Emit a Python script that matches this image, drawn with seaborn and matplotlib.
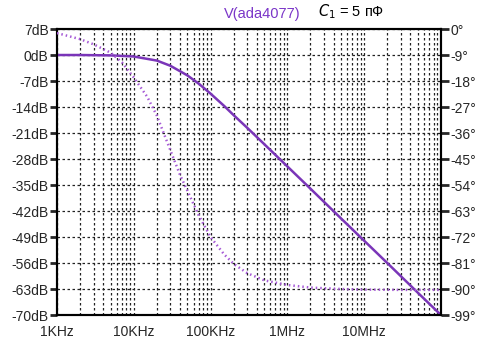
import numpy as np
import pandas as pd
import matplotlib
matplotlib.use("Agg")
import matplotlib.pyplot as plt
import seaborn as sns
from matplotlib.ticker import FixedLocator, NullFormatter

# Magnitude response of the ADA4077 stage (dB)
mag_freq_hz = [1e3, 2e3, 5e3, 1e4, 2e4, 3e4, 5e4, 7e4, 1e5, 1.5e5, 2e5, 3e5,
               5e5, 1e6, 2e6, 5e6, 1e7, 2e7, 5e7, 1e8]
mag_db = [0.0, 0.0, -0.1, -0.4, -1.5, -2.9, -5.5, -7.7, -10.4, -13.7, -16.2,
          -19.6, -24.0, -30.0, -36.0, -44.0, -50.0, -56.0, -64.0, -70.0]

# Phase response (degrees)
phase_freq_hz = [1e3, 2e3, 3e3, 5e3, 7e3, 1e4, 1.5e4, 2e4, 3e4, 4e4, 5e4, 7e4,
                 1e5, 1.5e5, 2e5, 3e5, 5e5, 1e6, 2e6, 5e6, 1e7, 3e7, 1e8]
phase_deg = [-1.4, -3.5, -5.3, -8.2, -11.5, -16.8, -23.5, -30.0, -42.0, -50.5,
             -56.0, -64.5, -72.0, -78.0, -81.3, -84.5, -87.0, -88.6, -89.5,
             -90.0, -90.2, -90.3, -90.3]

db_ticks = list(range(7, -71, -7))
deg_ticks = list(range(0, -100, -9))
freq_ticks = [1e3, 1e4, 1e5, 1e6, 1e7]
freq_labels = ["1KHz", "10KHz", "100KHz", "1MHz", "10MHz"]

sns.set_style("white")
plt.rcParams["font.family"] = ["Liberation Sans Narrow", "Liberation Sans", "DejaVu Sans"]

mag = pd.DataFrame({"f": mag_freq_hz, "db": mag_db})
ph = pd.DataFrame({"f": phase_freq_hz, "deg": phase_deg})

fig = plt.figure(figsize=(4.87, 3.41), dpi=100)
ax = fig.add_axes([0.117, 0.0762, 0.7885, 0.8387])
ax2 = ax.twinx()

mag_color = "#7a35b8"
phase_color = "#a65ad6"

sns.lineplot(data=mag, x="f", y="db", ax=ax, color=mag_color, lw=1.8, zorder=5)
sns.lineplot(data=ph, x="f", y="deg", ax=ax2, color=phase_color, lw=1.8,
             linestyle=(0, (0.6, 1.2)), zorder=5)

ax.set_xscale("log")
ax.set_xlim(1e3, 1e8)
ax.set_ylim(-70, 7)
ax2.set_ylim(-99, 0)

ax.set_yticks(db_ticks)
ax.set_yticklabels([f"{t}dB" for t in db_ticks])
ax2.set_yticks(deg_ticks)
ax2.set_yticklabels([f"{t}°" for t in deg_ticks])

ax.xaxis.set_major_locator(FixedLocator(freq_ticks))
ax.set_xticklabels(freq_labels)
minor = [m * 10 ** e for e in range(3, 8) for m in range(2, 10)]
ax.xaxis.set_minor_locator(FixedLocator(minor))
ax.xaxis.set_minor_formatter(NullFormatter())

grid_kw = dict(color="#222222", lw=0.9, linestyle=(0, (2, 2)))
ax.grid(True, which="major", axis="both", **grid_kw)
ax.grid(True, which="minor", axis="x", **grid_kw)
ax.set_axisbelow(True)

for a in (ax, ax2):
    for s in a.spines.values():
        s.set_color("black")
        s.set_linewidth(1.5)
ax.tick_params(axis="y", which="major", direction="out", length=5, width=2,
               labelsize=10, pad=1)
ax2.tick_params(axis="y", which="major", direction="out", length=6, width=2,
                labelsize=10, pad=1)
ax.tick_params(axis="x", which="major", direction="out", length=5, width=1.5,
               labelsize=10, pad=2)
ax.tick_params(axis="x", which="minor", direction="in", length=4, width=1.2)

ax.set_xlabel("")
ax.set_ylabel("")
ax2.set_ylabel("")

fig.text(0.538, 0.938, "V(ada4077)", color="#7a35c8", fontsize=10.5, ha="center",
         va="bottom")
fig.text(0.653, 0.938, r"$C_1$ = 5 пФ", color="black", fontsize=10.5, ha="left",
         va="bottom", family=["Liberation Sans", "DejaVu Sans"])

fig.savefig("out.png", dpi=100)
